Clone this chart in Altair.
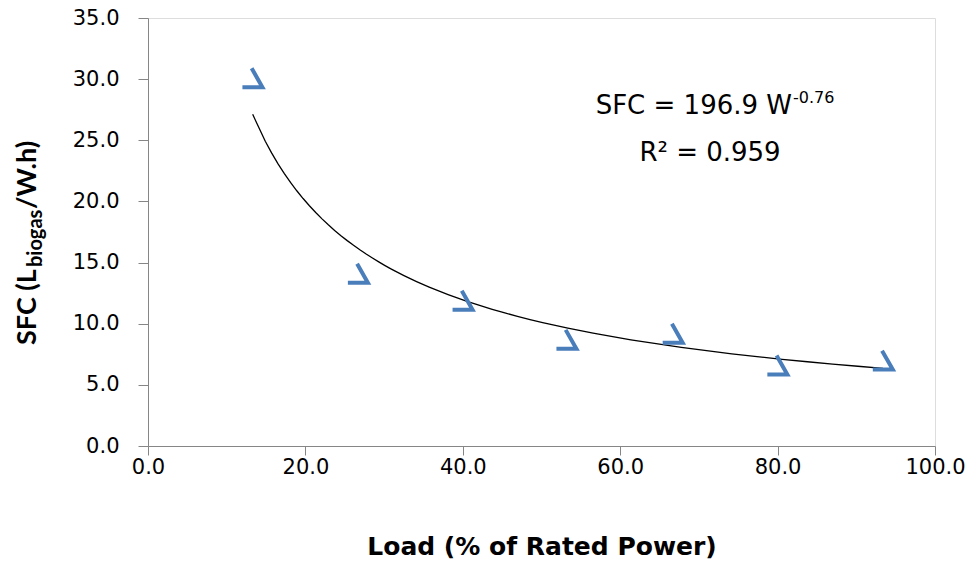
import altair as alt
import pandas as pd

# Data
load = [13.3, 26.7, 40.0, 53.2, 66.7, 80.0, 93.4]
sfc = [30.1, 14.1, 11.9, 8.7, 9.2, 6.6, 7.0]
y_ticks = [0, 5, 10, 15, 20, 25, 30, 35]
x_ticks = [0, 20, 40, 60, 80, 100]

df = pd.DataFrame({"load": load, "sfc": sfc})

FONT = "DejaVu Sans"
VFONT = "Lato"
W, H = 787, 428

xscale = alt.Scale(domain=[0, 100], nice=False, zero=False)
yscale = alt.Scale(domain=[0, 35], nice=False, zero=False)

xaxis = alt.Axis(values=x_ticks, format=".1f", grid=False, title="Load (% of Rated Power)",
                 titleFont=FONT, titleFontSize=25, titleFontWeight="bold", titleColor="black",
                 titlePadding=57, labelFont=FONT, labelFontSize=21, labelColor="black",
                 labelPadding=1, tickSize=9, tickColor="#868686", domainColor="#868686",
                 labelFlush=False, labelOverlap=False)
yaxis = alt.Axis(values=y_ticks, format=".1f", grid=False, title=None,
                 labelFont=FONT, labelFontSize=21, labelColor="black",
                 labelPadding=19, tickSize=10, tickColor="#868686", domainColor="#868686",
                 labelFlush=False, labelOverlap=False)

base = alt.Chart(df)

points = base.mark_point(
    shape="M -0.1 -0.95 L 0.95 0.9 L -1 0.9",
    filled=False, size=420, strokeWidth=4, color="#4A7EBB", opacity=1,
    strokeJoin="miter", strokeCap="butt",
).encode(
    x=alt.X("load:Q", scale=xscale, axis=xaxis),
    y=alt.Y("sfc:Q", scale=yscale, axis=yaxis),
)

curve = base.transform_regression("load", "sfc", method="pow").mark_line(
    color="black", strokeWidth=1.3
).encode(
    x=alt.X("load:Q", scale=xscale),
    y=alt.Y("sfc:Q", scale=yscale),
)

def txt(text, x, y, size, align="left", baseline="middle", angle=0, weight="normal", font=FONT):
    return alt.Chart(pd.DataFrame({"t": [text]})).mark_text(
        font=font, fontSize=size, align=align, baseline=baseline, angle=angle,
        fontWeight=weight, color="black"
    ).encode(text="t:N", x=alt.value(x), y=alt.value(y))

eq1 = txt("SFC = 196.9 W", 644, 88, 26, align="right")
eq_sup = txt("-0.76", 645, 80, 16, align="left")
eq2 = txt("R² = 0.959", 562, 135, 26, align="center")

yt1 = txt("SFC (L", -112, 327, 27, align="left", baseline="alphabetic", angle=270, weight="bold", font=VFONT)
yt2 = txt("biogas", -106, 249, 20, align="left", baseline="alphabetic", angle=270, weight="bold", font=VFONT)
yt3 = txt("/W.h)", -112, 191, 27, align="left", baseline="alphabetic", angle=270, weight="bold", font=VFONT)

chart = alt.layer(curve, points, eq1, eq_sup, eq2, yt1, yt2, yt3).properties(
    width=W, height=H,
    autosize=alt.AutoSizeParams(type="none"),
    padding={"left": 148, "top": 18, "right": 39, "bottom": 125},
).configure_view(stroke=None).configure(background="white")

chart.save("out.html", embed_options={"renderer": "svg", "actions": False})
